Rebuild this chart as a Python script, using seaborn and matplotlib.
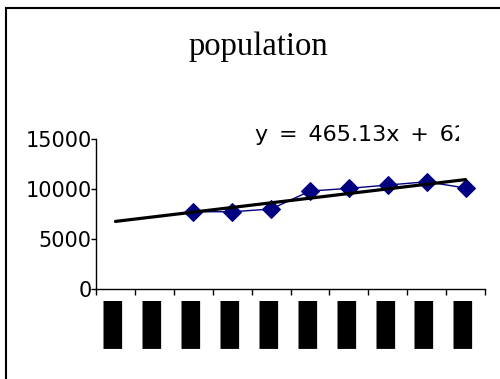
import numpy as np
import pandas as pd
import matplotlib
matplotlib.use("Agg")
import matplotlib.pyplot as plt
from matplotlib.patches import Rectangle
from matplotlib.transforms import Bbox, TransformedBbox, ScaledTranslation
import seaborn as sns

# Category index, population (first two periods have no value) and tick labels
periods = [1, 2, 3, 4, 5, 6, 7, 8, 9, 10]
population = [np.nan, np.nan, 7730, 7730, 8001, 9800, 10070, 10400, 10730, 10102]
period_labels = ["▌"] * 10
y_ticks = [0, 5000, 10000, 15000]

sns.set_theme(style="ticks")
plt.rcParams["font.family"] = ["DejaVu Sans"]
plt.rcParams["text.color"] = "black"
plt.rcParams["xtick.color"] = "black"
plt.rcParams["ytick.color"] = "black"
plt.rcParams["xtick.labelcolor"] = "black"
plt.rcParams["ytick.labelcolor"] = "black"

df = pd.DataFrame({"period": periods, "population": population})
obs = df.dropna()

# Linear trend fitted on the observed periods, drawn across all periods
slope, intercept = np.polyfit(obs["period"], obs["population"], 1)
trend = pd.DataFrame({"period": periods,
                      "trend": intercept + slope * np.array(periods)})

fig = plt.figure(figsize=(5, 3.79), dpi=100)
ax = fig.add_axes([0.192, 0.2375, 0.778, 0.3955])

sns.lineplot(data=obs, x="period", y="population", ax=ax, color="#000080",
             lw=1, marker="D", markersize=9, markeredgecolor="#000080")
sns.lineplot(data=trend, x="period", y="trend", ax=ax, color="black", lw=2.3)

ax.set_xlim(0.5, 10.5)
ax.set_ylim(0, 15000)
ax.set_xlabel("")
ax.set_ylabel("")

ax.set_yticks(y_ticks)
ax.set_yticklabels([str(v) for v in y_ticks], fontsize=15)
ax.tick_params(axis="y", length=3.6, width=1, pad=-0.5)

ax.set_xticks(np.arange(0.5, 11, 1))
ax.set_xticklabels([])
ax.tick_params(axis="x", which="major", length=4.3, width=1)
ax.set_xticks(periods, minor=True)
ax.set_xticklabels(period_labels, minor=True, fontsize=34)
ax.tick_params(axis="x", which="minor", length=0, pad=8)
# the half-block glyph sits in the left half of its cell; nudge it onto the category centre
nudge = ScaledTranslation(6.5 / 100, 0, fig.dpi_scale_trans)
for lab in ax.get_xticklabels(minor=True):
    lab.set_transform(lab.get_transform() + nudge)

for side in ("top", "right"):
    ax.spines[side].set_visible(False)
for side in ("left", "bottom"):
    ax.spines[side].set_color("black")
    ax.spines[side].set_linewidth(1)

fig.text(0.516, 1 - 47 / 379, "population", family="Liberation Serif",
         fontsize=23.5, ha="center", va="center")

# slightly wider word gaps for the trend equation
sp = " \u2006"
eq = fig.text(255 / 500, 1 - 135 / 379,
              f"y{sp}={sp}{slope:.2f}x{sp}+{sp}{intercept:.0f}",
              fontsize=16, ha="left", va="center")
eq.set_clip_box(TransformedBbox(Bbox([[0, 0], [459 / 500, 1]]), fig.transFigure))
eq.set_clip_on(True)

fig.patches.append(Rectangle((6 / 500, -0.1), 1.2, 1.1 - 7.5 / 379,
                             transform=fig.transFigure, fill=False,
                             edgecolor="black", lw=1.5))

fig.savefig("out.png", dpi=100)
